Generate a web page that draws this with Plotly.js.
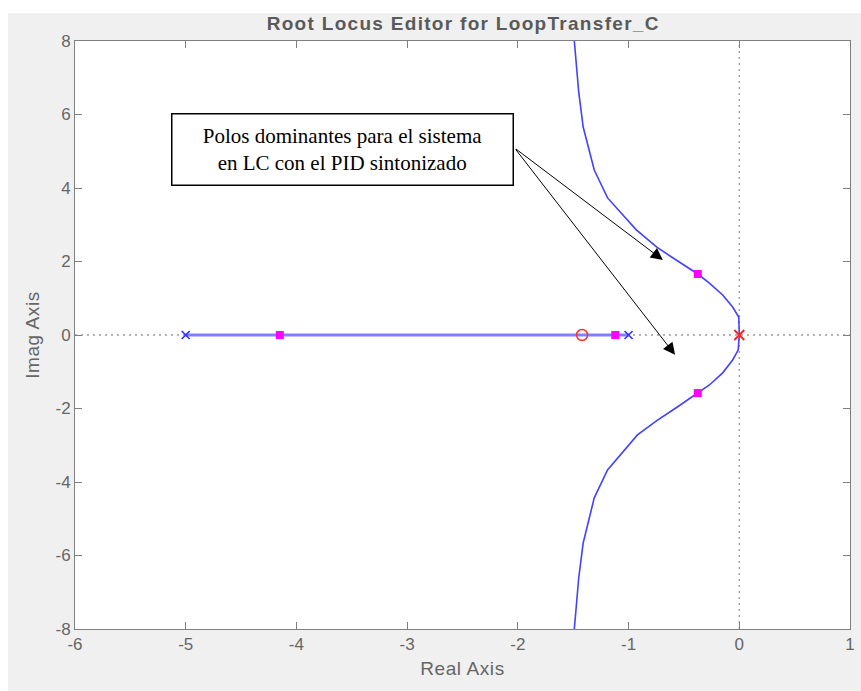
<!DOCTYPE html>
<html>
<head>
<meta charset="utf-8">
<script src="https://cdn.plot.ly/plotly-3.0.1.min.js"></script>
<style>
html,body{margin:0;padding:0;background:#fff;overflow:hidden;}
.gtitle{letter-spacing:1.3px;}
.xtitle,.ytitle{letter-spacing:0.6px;}
</style>
</head>
<body>
<div id="chart" style="width:861px;height:691px;"></div>
<script>
// Root locus branches
var upperRe = [0, -0.005, -0.06, -0.15, -0.27, -0.375, -0.56, -0.745, -0.93, -1.19, -1.31, -1.41, -1.45, -1.49];
var upperIm = [0, 0.49, 0.76, 1.09, 1.41, 1.66, 2.02, 2.39, 2.86, 3.73, 4.49, 5.66, 6.6, 8.0];
var lowerRe = [0, -0.01, -0.06, -0.15, -0.27, -0.375, -0.56, -0.745, -0.92, -1.19, -1.31, -1.41, -1.45, -1.49];
var lowerIm = [0, -0.41, -0.68, -1.03, -1.36, -1.58, -1.96, -2.33, -2.72, -3.67, -4.43, -5.66, -6.6, -8.0];
var realRe = [-5, -1];
var realIm = [0, 0];
// Open-loop poles and zeros
var plantPolesRe = [-5, -1];
var plantPolesIm = [0, 0];
var compPolesRe = [0];
var compPolesIm = [0];
var compZerosRe = [-1.42];
var compZerosIm = [0];
// Closed-loop poles
var clPolesRe = [-4.15, -1.12, -0.375, -0.375];
var clPolesIm = [0, 0, 1.66, -1.58];
// Axes
var xTicks = [-6, -5, -4, -3, -2, -1, 0, 1];
var yTicks = [-8, -6, -4, -2, 0, 2, 4, 6, 8];

var locusColor = '#4242ff';
var traces = [
  {x: [-6, 1], y: [0, 0], mode: 'lines', line: {color: '#9a9a9a', width: 1.3, dash: '2px,4px'}, hoverinfo: 'skip'},
  {x: [0, 0], y: [-8, 8], mode: 'lines', line: {color: '#9a9a9a', width: 1.3, dash: '2px,4px'}, hoverinfo: 'skip'},
  {x: realRe, y: realIm, mode: 'lines', line: {color: '#8080ff', width: 3}},
  {x: upperRe, y: upperIm, mode: 'lines', line: {color: locusColor, width: 1.6}},
  {x: lowerRe, y: lowerIm, mode: 'lines', line: {color: locusColor, width: 1.6}},
  {x: plantPolesRe, y: plantPolesIm, mode: 'markers', marker: {symbol: 'x-thin-open', size: 8, color: '#2f2fff', line: {color: '#2f2fff', width: 1.6}}},
  {x: compZerosRe, y: compZerosIm, mode: 'markers', marker: {symbol: 'circle-open', size: 11, color: '#ff3030', line: {color: '#ff3030', width: 1.5}}},
  {x: compPolesRe, y: compPolesIm, mode: 'markers', marker: {symbol: 'x-thin-open', size: 10, color: '#ff2020', line: {color: '#ff2020', width: 1.8}}},
  {x: clPolesRe, y: clPolesIm, mode: 'markers', marker: {symbol: 'square', size: 8, color: '#ff00ff'}}
];

var tickFont = {family: 'Liberation Sans, Arial, sans-serif', size: 17, color: '#666666'};
var layout = {
  width: 861, height: 691,
  margin: {l: 75, r: 11, t: 41, b: 62, pad: 0},
  paper_bgcolor: '#f0f0f0',
  plot_bgcolor: '#ffffff',
  showlegend: false,
  title: {text: '<b>Root Locus Editor for LoopTransfer_C</b>', font: {family: 'Liberation Sans, Arial, sans-serif', size: 19, color: '#5a5a5a'}, x: 0.538, xanchor: 'center', y: 0.966, yref: 'container', yanchor: 'middle'},
  xaxis: {
    range: [-6, 1], tickvals: xTicks, ticktext: xTicks.map(String), ticks: 'inside', ticklen: 7, tickcolor: '#7f7f7f',
    showline: true, linecolor: '#7f7f7f', linewidth: 1, mirror: 'ticks', showgrid: false, zeroline: false,
    tickfont: tickFont,
    title: {text: 'Real Axis', font: {family: 'Liberation Sans, Arial, sans-serif', size: 19, color: '#666666'}, standoff: 8}
  },
  yaxis: {
    range: [-8, 8], tickvals: yTicks, ticktext: yTicks.map(String), ticks: 'inside', ticklen: 7, tickcolor: '#7f7f7f',
    showline: true, linecolor: '#7f7f7f', linewidth: 1, mirror: 'ticks', showgrid: false, zeroline: false,
    tickfont: tickFont,
    title: {text: 'Imag Axis', font: {family: 'Liberation Sans, Arial, sans-serif', size: 19, color: '#666666'}, standoff: 10}
  },
  shapes: [
    {type: 'rect', xref: 'paper', yref: 'paper', x0: -0.1, x1: -0.0865, y0: -0.2, y1: 1.2, fillcolor: '#ffffff', line: {width: 0}, layer: 'above'},
    {type: 'rect', xref: 'paper', yref: 'paper', x0: -0.2, x1: 1.2, y0: 1.0476, y1: 1.2, fillcolor: '#ffffff', line: {width: 0}, layer: 'above'}
  ],
  annotations: [
    {x: -0.69, y: 2.04, ax: -2.03, ay: 5.09, xref: 'x', yref: 'y', axref: 'x', ayref: 'y', text: '', showarrow: true, arrowhead: 2, arrowsize: 2.4, arrowwidth: 1, arrowcolor: '#000000'},
    {x: -0.58, y: -0.54, ax: -2.03, ay: 5.09, xref: 'x', yref: 'y', axref: 'x', ayref: 'y', text: '', showarrow: true, arrowhead: 2, arrowsize: 2.4, arrowwidth: 1, arrowcolor: '#000000'},
    {x: -3.58, y: 5.06, xref: 'x', yref: 'y', text: 'Polos dominantes para el sistema<br>en LC con el PID sintonizado', showarrow: false,
     font: {family: 'Liberation Serif, Times New Roman, serif', size: 21, color: '#000000'},
     bgcolor: '#ffffff', bordercolor: '#000000', borderwidth: 1.5, borderpad: 0, width: 340, height: 70, align: 'center', valign: 'middle'}
  ]
};
Plotly.newPlot('chart', traces, layout, {displayModeBar: false, staticPlot: true});
</script>
</body>
</html>
